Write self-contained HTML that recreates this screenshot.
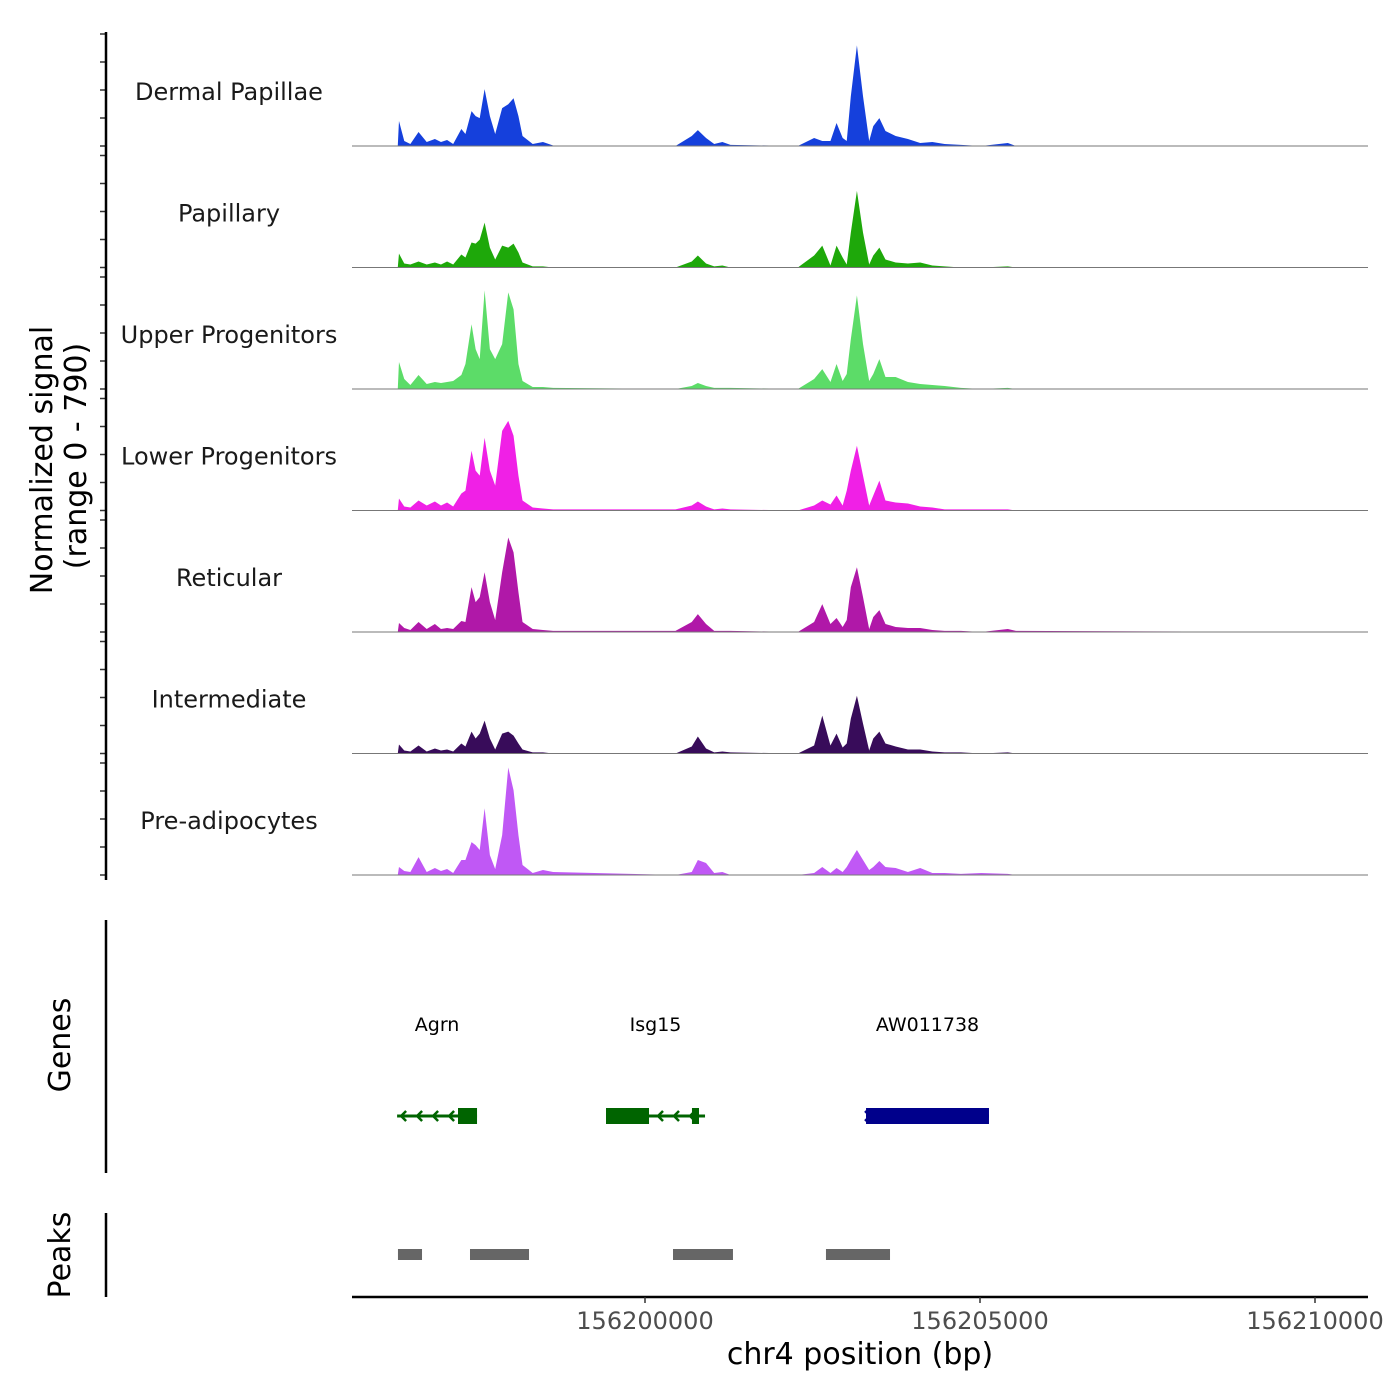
<!DOCTYPE html>
<html><head><meta charset="utf-8"><style>
html,body{margin:0;padding:0;background:#fff;}
svg{display:block;font-family:"DejaVu Sans","Liberation Sans",sans-serif;}
</style></head><body>
<svg id="chart" width="1400" height="1400" viewBox="0 0 1400 1400">
<g id="tracks"></g>
<g id="genes"></g>
<g id="peaks"></g>
<g id="axes"></g>
</svg>
<script>
// genomic positions in kb relative to 156,200,000
const positions = [-3.69,-3.672,-3.593,-3.502,-3.380,-3.258,-3.136,-3.045,-2.954,-2.863,-2.741,-2.680,-2.589,-2.528,-2.467,-2.394,-2.315,-2.236,-2.132,-2.041,-1.962,-1.889,-1.828,-1.676,-1.523,-1.371,0.455,0.698,0.789,0.911,1.033,1.155,1.276,2.281,2.524,2.646,2.768,2.859,2.950,3.011,3.072,3.163,3.254,3.346,3.407,3.498,3.589,3.741,3.924,4.107,4.289,4.472,4.715,5.019,5.415,5.537,10.7];
const trackNames = ["Dermal Papillae","Papillary","Upper Progenitors","Lower Progenitors","Reticular","Intermediate","Pre-adipocytes"];
const trackColors = ["#1540dc","#1ea80a","#5cdc68","#f020e6","#b018a8","#380c5a","#c058f5"];
const dermalValues = [0,163,33,13,91,26,46,26,39,13,111,78,228,195,182,371,195,78,247,273,312,195,65,13,26,3,0,65,104,52,13,26,7,0,52,33,33,150,52,33,325,657,325,33,130,182,98,65,46,20,26,13,7,0,20,0,0];
const papillaryValues = [0,91,26,20,39,20,33,20,39,20,85,65,163,156,182,293,130,52,143,130,156,98,33,7,7,0,0,39,78,26,7,13,0,0,78,143,13,143,65,20,228,500,228,20,78,130,52,33,26,33,13,7,0,0,7,0,0];
const upperValues = [0,176,65,26,91,33,46,39,46,52,91,163,423,260,195,644,260,195,293,631,520,163,52,13,13,7,0,20,39,20,7,7,7,0,65,130,46,163,52,98,325,611,293,52,98,195,78,78,46,33,26,20,7,0,7,0,0];
const lowerValues = [0,78,26,20,65,33,59,33,52,26,111,130,390,260,228,475,260,163,520,585,488,228,65,20,13,7,7,33,59,26,7,13,7,0,33,65,39,98,33,130,260,423,228,33,98,195,65,52,46,26,20,7,7,7,7,0,0];
const reticularValues = [0,59,26,13,65,20,52,20,26,20,72,65,293,195,228,390,195,78,390,617,520,260,65,20,13,7,7,65,117,52,7,7,7,0,65,182,52,91,33,78,293,423,228,20,98,143,52,33,26,26,13,7,7,0,20,7,0];
const intermediateValues = [0,59,20,13,52,13,33,20,26,13,65,46,143,98,130,215,98,26,130,143,117,65,26,7,7,0,0,46,111,33,7,13,7,0,52,247,52,130,39,65,228,377,195,20,98,143,65,46,26,26,13,7,7,0,7,0,0];
const preadipoValues = [0,52,26,20,117,20,46,26,39,13,98,98,215,195,163,436,130,39,260,702,553,260,65,13,33,20,0,20,98,78,13,20,0,0,13,52,13,46,20,52,98,163,98,33,52,91,52,46,20,46,13,13,7,13,7,0,0];
const seriesValues = [dermalValues,papillaryValues,upperValues,lowerValues,reticularValues,intermediateValues,preadipoValues];
const yMax = 790;
const xTicks = [156200000,156205000,156210000];
const xTickLabels = ["156200000","156205000","156210000"];
const geneNames = ["Agrn","Isg15","AW011738"];
const geneStarts = [-3.70,-0.582,3.299];
const geneEnds = [-2.507,0.896,5.134];
const geneStrands = [-1,-1,1];
const geneColors = ["#006400","#006400","#00008b"];
const exonStarts = [[-2.791],[-0.582,0.701],[3.299]];
const exonEnds = [[-2.507],[0.060,0.806],[5.134]];
const peakStarts = [-3.687,-2.612,0.418,2.701];
const peakEnds = [-3.328,-1.731,1.313,3.657];

const NS="http://www.w3.org/2000/svg";
function mk(tag,attrs,parent){const e=document.createElementNS(NS,tag);for(const k in attrs)e.setAttribute(k,attrs[k]);parent.appendChild(e);return e;}
const X0=352,X1=1368;
function xScale(kb){return 645+kb*67;}
function xScaleBp(bp){return 645+(bp-156200000)/1000*67;}
const trackH=121.5, firstBase=146;
function yScale(v,i){return firstBase+i*trackH - v/yMax*121;}

const tracks=document.getElementById('tracks');
seriesValues.forEach((vals,i)=>{
  const base=firstBase+i*trackH;
  let d="M"+xScale(positions[0])+","+base;
  vals.forEach((v,j)=>{d+=" L"+xScale(positions[j]).toFixed(2)+","+yScale(v,i).toFixed(2);});
  d+=" L"+xScale(positions[positions.length-1])+","+base+" Z";
  const p=mk('path',{d:d,fill:trackColors[i]},tracks);
  
  
  const bl=mk('line',{x1:X0,x2:X1,y1:base,y2:base,stroke:'#777','stroke-width':1},tracks);
  
  
  const t=mk('text',{x:229,y:base-46,'text-anchor':'middle','font-size':24,fill:'#1a1a1a'},tracks);
  t.textContent=trackNames[i];
  
  
  for(let k=0;k<=4;k++){
    const ty=base-k*28;
    const tk=mk('line',{x1:100,x2:106,y1:ty,y2:ty,stroke:'#333','stroke-width':1.5},tracks);
    
    
  }
});

const genes=document.getElementById('genes');
geneNames.forEach((g,i)=>{
  const y=1116,c=geneColors[i];
  const x1=xScale(geneStarts[i]),x2=xScale(geneEnds[i]);
  const ln=mk('line',{x1:x1,x2:x2,y1:y,y2:y,stroke:c,'stroke-width':3},genes);
  
  
  for(let ax=x1+4;ax<x2-4;ax+=16){
    const dx=geneStrands[i]<0?5:-5;
    const ar=mk('path',{d:`M${ax+dx},${y-5} L${ax},${y} L${ax+dx},${y+5}`,stroke:c,'stroke-width':2.5,fill:'none'},genes);
    
    
  }
  exonStarts[i].forEach((s,k)=>{
    const ex=mk('rect',{x:xScale(s),y:1108,width:xScale(exonEnds[i][k])-xScale(s),height:16,fill:c},genes);
    
    
  });
  const lb=mk('text',{x:(x1+x2)/2,y:1031,'text-anchor':'middle','font-size':19,fill:'#000'},genes);
  lb.textContent=g;
  
  
});

const peaks=document.getElementById('peaks');
peakStarts.forEach((s,i)=>{
  const r=mk('rect',{x:xScale(s),y:1249,width:xScale(peakEnds[i])-xScale(s),height:11,fill:'#666'},peaks);
  
  
});

const axes=document.getElementById('axes');
[[32,880],[920,1173],[1213,1297]].forEach(r=>{
  const l=mk('line',{x1:106,x2:106,y1:r[0],y2:r[1],stroke:'#000','stroke-width':2.5},axes);
  
  
});
const xl=mk('line',{x1:X0,x2:X1,y1:1297,y2:1297,stroke:'#000','stroke-width':2.5},axes);


xTicks.forEach((t,i)=>{
  const x=xScaleBp(t);
  const tk=mk('line',{x1:x,x2:x,y1:1297,y2:1303,stroke:'#333','stroke-width':1.5},axes);
  
  
  const tl=mk('text',{x:x,y:1329,'text-anchor':'middle','font-size':24,fill:'#4d4d4d'},axes);
  tl.textContent=xTickLabels[i];
  
  
});
function txt(s,attrs,name){const t=mk('text',attrs,axes);t.textContent=s;}
txt("chr4 position (bp)",{x:860,y:1364,'text-anchor':'middle','font-size':30,fill:'#000'},'x-axis-title');
txt("Normalized signal",{x:0,y:0,transform:'translate(52,460) rotate(-90)','text-anchor':'middle','font-size':30,fill:'#000'},'y-axis-title');
txt("(range 0 - 790)",{x:0,y:0,transform:'translate(86,456) rotate(-90)','text-anchor':'middle','font-size':30,fill:'#000'},'y-axis-range');
txt("Genes",{x:0,y:0,transform:'translate(70,1045) rotate(-90)','text-anchor':'middle','font-size':30,fill:'#000'},'genes-axis-title');
txt("Peaks",{x:0,y:0,transform:'translate(70,1255) rotate(-90)','text-anchor':'middle','font-size':30,fill:'#000'},'peaks-axis-title');
</script>
</body></html>
